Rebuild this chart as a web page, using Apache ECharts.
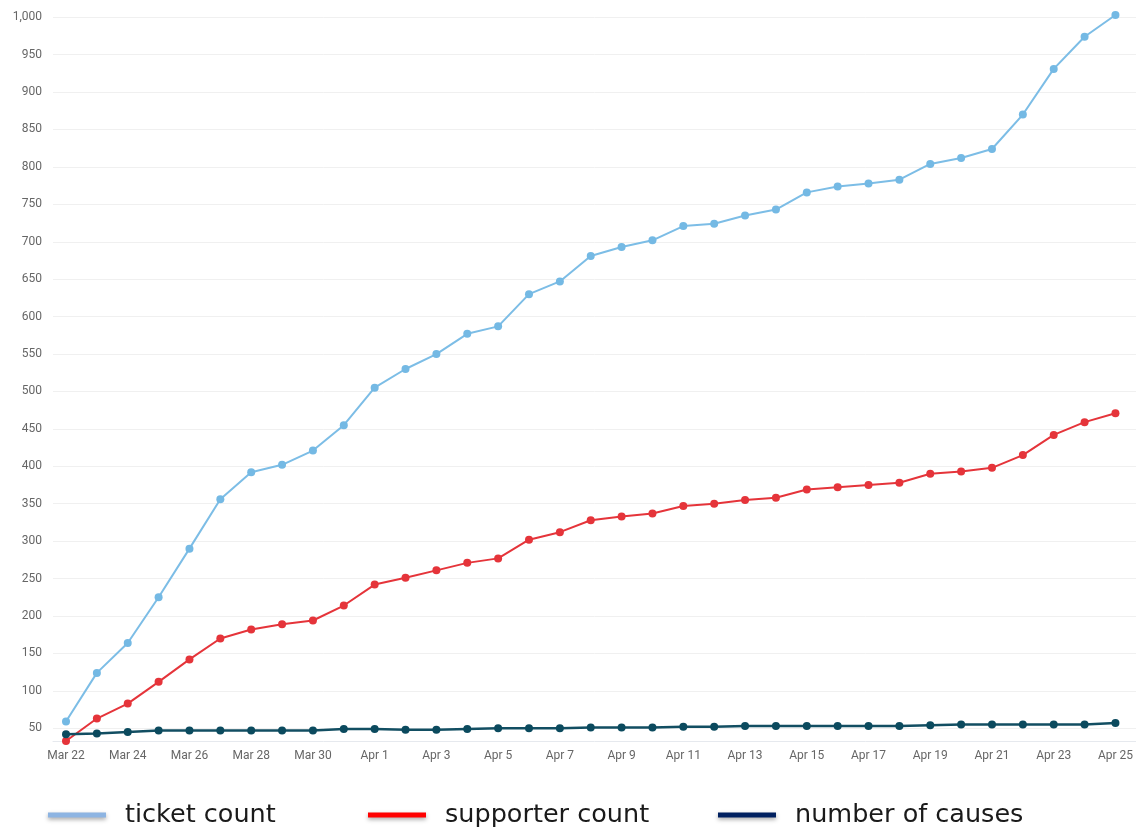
<!DOCTYPE html>
<html>
<head>
<meta charset="utf-8">
<script src="https://cdn.jsdelivr.net/npm/echarts@6/dist/echarts.min.js"></script>
<style>
html,body{margin:0;padding:0;background:#fff;}
#chart{width:1136px;height:829px;}
</style>
</head>
<body>
<div id="chart"></div>
<script>
const categories = ['Mar 22','Mar 23','Mar 24','Mar 25','Mar 26','Mar 27','Mar 28','Mar 29','Mar 30','Mar 31',
  'Apr 1','Apr 2','Apr 3','Apr 4','Apr 5','Apr 6','Apr 7','Apr 8','Apr 9','Apr 10',
  'Apr 11','Apr 12','Apr 13','Apr 14','Apr 15','Apr 16','Apr 17','Apr 18','Apr 19','Apr 20',
  'Apr 21','Apr 22','Apr 23','Apr 24','Apr 25'];
const ticketCount = [59,124,164,225,290,356,392,402,421,455,
  505,530,550,577,587,630,647,681,693,702,
  721,724,735,743,766,774,778,783,804,812,
  824,870,931,974,1003];
const supporterCount = [33,63,83,112,142,170,182,189,194,214,
  242,251,261,271,277,302,312,328,333,337,
  347,350,355,358,369,372,375,378,390,393,
  398,415,442,459,471];
const numberOfCauses = [42,43,45,47,47,47,47,47,47,49,
  49,48,48,49,50,50,50,51,51,51,
  52,52,53,53,53,53,53,53,54,55,
  55,55,55,55,57];
const seriesNames = ['ticket count','supporter count','number of causes'];
const yTickMin = 50, yTickMax = 1000, yTickStep = 50;

const chart = echarts.init(document.getElementById('chart'));
const labelFont = {color:'#666', fontSize:12, fontFamily:'Roboto, "Open Sans", sans-serif'};
const legendText = {color:'#1a1a1a', fontSize:25.5, fontFamily:'"DejaVu Sans", sans-serif', fontWeight:'normal', padding:[0,0,0,14]};
function legendFor(name, color, left){
  return {
    left: left, top: 802, padding:0, icon:'rect', itemWidth:58, itemHeight:5,
    selectedMode:false, textStyle: legendText,
    data:[{name:name, itemStyle:{color:color, shadowBlur:4, shadowColor:'rgba(0,0,0,0.35)', shadowOffsetY:2}}]
  };
}
const option = {
  animation:false,
  backgroundColor:'#fff',
  grid:[
    {left:66, right:12, top:15, bottom:88},
    {left:53, right:0, top:17.2, bottom:100.7}
  ],
  xAxis:[
    {type:'category', gridIndex:0, data:categories, boundaryGap:false,
     axisLine:{show:false}, axisTick:{show:false},
     axisLabel:Object.assign({interval:1, margin:9}, labelFont),
     splitLine:{show:false}},
    {type:'value', gridIndex:1, min:0, max:1, show:true, offset:12.7,
     axisLine:{show:true, lineStyle:{color:'#e6e9ee', width:1}},
     axisTick:{show:false}, axisLabel:{show:false}, splitLine:{show:false}}
  ],
  yAxis:[
    {type:'value', gridIndex:0, min:33, max:1003, show:false, splitLine:{show:false}},
    {type:'value', gridIndex:1, min:yTickMin, max:yTickMax, interval:yTickStep,
     axisLine:{show:false}, axisTick:{show:false},
     axisLabel:Object.assign({margin:11, formatter:function(v){return v.toLocaleString('en-US');}}, labelFont),
     splitLine:{show:true, lineStyle:{color:'#f0f0f0', width:1}}}
  ],
  legend:[
    legendFor(seriesNames[0], '#8db4e2', 48),
    legendFor(seriesNames[1], '#ff0000', 368),
    legendFor(seriesNames[2], '#002060', 718)
  ],
  series:[
    {name:seriesNames[0], type:'line', xAxisIndex:0, yAxisIndex:0, data:ticketCount,
     symbol:'circle', symbolSize:8, color:'#74b9e4', lineStyle:{width:2, color:'#7cbde6'}},
    {name:seriesNames[1], type:'line', xAxisIndex:0, yAxisIndex:0, data:supporterCount,
     symbol:'circle', symbolSize:8, color:'#e5343a', lineStyle:{width:2, color:'#e5343a'}},
    {name:seriesNames[2], type:'line', xAxisIndex:0, yAxisIndex:0, data:numberOfCauses,
     symbol:'circle', symbolSize:8, color:'#0b4a5e', lineStyle:{width:2.5, color:'#124e62'}}
  ]
};
chart.setOption(option);
</script>
</body>
</html>
